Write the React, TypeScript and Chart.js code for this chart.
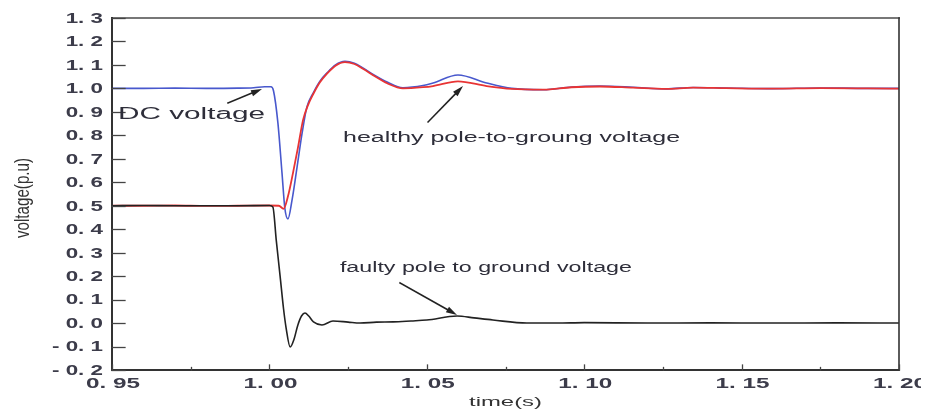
import React, { useEffect, useRef } from "react";
import { Chart, registerables } from "chart.js";

Chart.register(...registerables);

// ---------------- data ----------------
const dcTime = [0.95, 0.96, 0.97, 0.98, 0.99, 0.995, 0.9985, 1.0005, 1.0013, 1.0027, 1.004, 1.0049, 1.0059, 1.0072, 1.0088, 1.0104, 1.0119, 1.0139, 1.016, 1.0183, 1.021, 1.024, 1.027, 1.0297, 1.0335, 1.0374, 1.0424, 1.0488, 1.052, 1.0599, 1.069, 1.077, 1.087, 1.096, 1.105, 1.1155, 1.126, 1.1346, 1.145, 1.16, 1.175, 1.19, 1.2];
const dcVoltage = [1.0, 1.0, 1.001, 1.0, 1.001, 1.003, 1.007, 1.007, 0.99, 0.853, 0.64, 0.49, 0.444, 0.525, 0.666, 0.81, 0.92, 0.98, 1.03, 1.066, 1.1, 1.115, 1.107, 1.087, 1.055, 1.027, 1.003, 1.012, 1.023, 1.057, 1.023, 1.0, 0.994, 1.006, 1.01, 1.005, 0.998, 1.004, 1.002, 0.999, 1.002, 1.0, 1.0];

const healthyTime = [0.95, 0.96, 0.97, 0.98, 0.99, 1.0, 1.003, 1.0045, 1.0059, 1.0075, 1.0091, 1.0107, 1.0123, 1.0139, 1.016, 1.0183, 1.021, 1.024, 1.027, 1.0297, 1.0335, 1.0374, 1.0424, 1.0488, 1.052, 1.0599, 1.069, 1.077, 1.087, 1.096, 1.105, 1.1155, 1.126, 1.1346, 1.145, 1.16, 1.175, 1.19, 1.2];
const healthyVoltage = [0.5, 0.5, 0.501, 0.499, 0.5, 0.501, 0.5, 0.487, 0.54, 0.64, 0.75, 0.866, 0.93, 0.975, 1.025, 1.063, 1.097, 1.112, 1.104, 1.084, 1.052, 1.022, 1.0, 1.005, 1.01, 1.03, 1.01, 0.998, 0.995, 1.005, 1.008, 1.003, 0.998, 1.003, 1.001, 0.999, 1.001, 1.0, 0.999];

const faultyTime = [0.95, 0.96, 0.97, 0.98, 0.99, 1.0, 1.0011, 1.0022, 1.0034, 1.0045, 1.0053, 1.0066, 1.0078, 1.009, 1.0102, 1.0113, 1.0125, 1.014, 1.0167, 1.0202, 1.025, 1.0288, 1.034, 1.0393, 1.045, 1.05, 1.0596, 1.065, 1.071, 1.0818, 1.0914, 1.1, 1.12, 1.14, 1.16, 1.18, 1.2];
const faultyVoltage = [0.5, 0.501, 0.5, 0.5, 0.5, 0.501, 0.495, 0.35, 0.2, 0.06, -0.02, -0.102, -0.07, -0.01, 0.03, 0.043, 0.03, 0.005, -0.008, 0.009, 0.004, 0.0, 0.004, 0.005, 0.009, 0.013, 0.03, 0.022, 0.013, 0.0, 0.0, 0.002, 0.0, 0.001, 0.0, 0.001, 0.0];

const xTicks = [0.95, 1.0, 1.05, 1.1, 1.15, 1.2];
const xTickLabels = ["0. 95", "1. 00", "1. 05", "1. 10", "1. 15", "1. 20"];
const xMinorTicks = [0.975, 1.025, 1.075, 1.125, 1.175];
const yTicks = [-0.2, -0.1, 0.0, 0.1, 0.2, 0.3, 0.4, 0.5, 0.6, 0.7, 0.8, 0.9, 1.0, 1.1, 1.2, 1.3];
const yTickLabels = ["- 0. 2", "- 0. 1", "0. 0", "0. 1", "0. 2", "0. 3", "0. 4", "0. 5", "0. 6", "0. 7", "0. 8", "0. 9", "1. 0", "1. 1", "1. 2", "1. 3"];

const xTitle = "time(s)";
const yTitle = "voltage(p.u)";

// annotation texts and their anchor (time, voltage)
const noteTexts = ["DC voltage", "healthy pole-to-groung voltage", "faulty pole to ground voltage"];
const noteTime = [0.9519, 1.0234, 1.0224];
const noteVoltage = [0.887, 0.789, 0.235];
// arrows: from (t0,v0) to (t1,v1)
const arrowFromT = [0.98685, 1.0504, 1.0415];
const arrowFromV = [0.938, 0.857, 0.171];
const arrowToT = [0.99765, 1.0615, 1.0596];
const arrowToV = [0.9975, 1.01, 0.0346];

// ---------------- styling ----------------
const noteWidths = [147, 337, 292];
const noteSizes = [16, 14, 14];
const FONT = '"Liberation Sans", Arial, sans-serif';

function drawStretched(ctx: CanvasRenderingContext2D, text: string, x: number, y: number, sx: number, align: CanvasTextAlign) {
  ctx.save();
  ctx.translate(x, y);
  ctx.scale(sx, 1);
  ctx.textAlign = align;
  ctx.textBaseline = "middle";
  ctx.fillText(text, 0, 0);
  ctx.restore();
}

function drawToWidth(ctx: CanvasRenderingContext2D, text: string, x: number, y: number, width: number, align: CanvasTextAlign) {
  const w = ctx.measureText(text).width;
  drawStretched(ctx, text, x, y, width / w, align);
}

const framePlugin = {
  id: "framePlugin",
  afterDraw(chart: any) {
    const ctx: CanvasRenderingContext2D = chart.ctx;
    const { left, right, top, bottom } = chart.chartArea;
    const xs = chart.scales.x;
    const ys = chart.scales.y;
    ctx.save();

    // frame
    ctx.lineCap = "square";
    ctx.strokeStyle = "#777";
    ctx.lineWidth = 2;
    ctx.beginPath();
    ctx.moveTo(left, top);
    ctx.lineTo(right, top);
    ctx.stroke();
    ctx.strokeStyle = "#333";
    ctx.lineWidth = 1.6;
    ctx.beginPath();
    ctx.moveTo(right, top);
    ctx.lineTo(right, bottom);
    ctx.stroke();
    ctx.lineWidth = 2;
    ctx.beginPath();
    ctx.moveTo(left, top);
    ctx.lineTo(left, bottom);
    ctx.lineTo(right, bottom);
    ctx.stroke();

    // y ticks (inside)
    ctx.lineWidth = 1.3;
    ctx.strokeStyle = "#444";
    yTicks.forEach((v) => {
      const y = Math.round(ys.getPixelForValue(v)) + 0.5;
      ctx.beginPath();
      ctx.moveTo(left, y);
      ctx.lineTo(left + 13, y);
      ctx.stroke();
    });
    // x ticks (inside)
    xTicks.forEach((v) => {
      const x = Math.round(xs.getPixelForValue(v)) + 0.5;
      ctx.beginPath();
      ctx.moveTo(x, bottom);
      ctx.lineTo(x, bottom - 5);
      ctx.stroke();
    });
    xMinorTicks.forEach((v) => {
      const x = Math.round(xs.getPixelForValue(v)) + 0.5;
      ctx.beginPath();
      ctx.moveTo(x, bottom);
      ctx.lineTo(x, bottom - 2.5);
      ctx.stroke();
    });

    // tick labels
    ctx.fillStyle = "#3c3c4a";
    ctx.font = `bold 14px ${FONT}`;
    yTicks.forEach((v, i) => {
      drawStretched(ctx, yTickLabels[i], left - 9, ys.getPixelForValue(v) + 1, 1.6, "right");
    });
    xTicks.forEach((v, i) => {
      drawToWidth(ctx, xTickLabels[i], xs.getPixelForValue(v) + 1, bottom + 14, 54, "center");
    });

    // axis titles
    ctx.fillStyle = "#333";
    ctx.font = `13px ${FONT}`;
    drawToWidth(ctx, xTitle, (left + right) / 2, bottom + 32, 73, "center");
    ctx.save();
    ctx.font = `13px ${FONT}`;
    const w = ctx.measureText(yTitle).width;
    ctx.translate(15, 190);
    ctx.scale(1.55, 1);
    ctx.rotate(-Math.PI / 2);
    ctx.scale(80 / w, 1);
    ctx.textAlign = "center";
    ctx.textBaseline = "middle";
    ctx.fillText(yTitle, 0, 0);
    ctx.restore();

    // annotations
    ctx.fillStyle = "#2e2e3a";
    noteTexts.forEach((t, i) => {
      ctx.font = `${noteSizes[i]}px ${FONT}`;
      drawToWidth(ctx, t, xs.getPixelForValue(noteTime[i]), ys.getPixelForValue(noteVoltage[i]), noteWidths[i], "left");
    });

    // arrows
    ctx.strokeStyle = "#222";
    ctx.fillStyle = "#222";
    ctx.lineWidth = 1.6;
    arrowFromT.forEach((t0, i) => {
      const x0 = xs.getPixelForValue(t0);
      const y0 = ys.getPixelForValue(arrowFromV[i]);
      const x1 = xs.getPixelForValue(arrowToT[i]);
      const y1 = ys.getPixelForValue(arrowToV[i]);
      const ang = Math.atan2(y1 - y0, x1 - x0);
      const hl = 11;
      const hw = 3.2;
      const bx = x1 - hl * Math.cos(ang);
      const by = y1 - hl * Math.sin(ang);
      ctx.beginPath();
      ctx.moveTo(x0, y0);
      ctx.lineTo(bx, by);
      ctx.stroke();
      ctx.beginPath();
      ctx.moveTo(x1, y1);
      ctx.lineTo(bx + hw * Math.sin(ang), by - hw * Math.cos(ang));
      ctx.lineTo(bx - hw * Math.sin(ang), by + hw * Math.cos(ang));
      ctx.closePath();
      ctx.fill();
    });

    ctx.restore();
  },
};

function toPoints(ts: number[], vs: number[]) {
  return ts.map((t, i) => ({ x: t, y: vs[i] }));
}

export default function App() {
  const ref = useRef<HTMLCanvasElement | null>(null);
  useEffect(() => {
    if (!ref.current) return;
    const chart = new Chart(ref.current, {
      type: "line",
      data: {
        datasets: [
          {
            label: "faulty pole to ground voltage",
            data: toPoints(faultyTime, faultyVoltage),
            borderColor: "#222222",
            borderWidth: 1.6,
            pointRadius: 0,
            cubicInterpolationMode: "monotone",
          },
          {
            label: "healthy pole-to-groung voltage",
            data: toPoints(healthyTime, healthyVoltage),
            borderColor: "rgb(232,52,52)",
            borderWidth: 1.8,
            pointRadius: 0,
            cubicInterpolationMode: "monotone",
          },
          {
            label: "DC voltage",
            data: toPoints(dcTime, dcVoltage),
            borderColor: "rgb(72,88,205)",
            borderWidth: 1.6,
            pointRadius: 0,
            cubicInterpolationMode: "monotone",
          },
        ],
      },
      options: {
        animation: false,
        responsive: true,
        maintainAspectRatio: false,
        layout: { padding: { left: 104, right: 22, top: 10, bottom: 40 } },
        plugins: { legend: { display: false }, tooltip: { enabled: false } },
        scales: {
          x: { type: "linear", min: 0.95, max: 1.2, display: false },
          y: { type: "linear", min: -0.2, max: 1.3, display: false },
        },
      },
      plugins: [framePlugin],
    });
    return () => chart.destroy();
  }, []);
  return (
    <div style={{ width: 913, height: 402, position: "relative" }}>
      <canvas ref={ref} />
    </div>
  );
}
